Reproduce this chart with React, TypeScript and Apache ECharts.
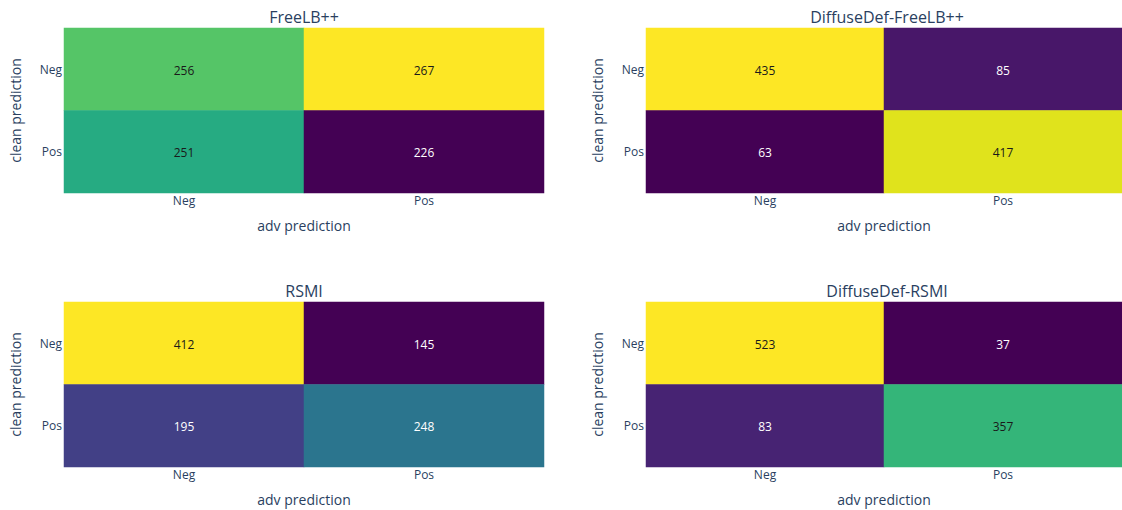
import React, { useEffect, useRef } from "react";
import * as echarts from "echarts";

const titles = ["FreeLB++", "DiffuseDef-FreeLB++", "RSMI", "DiffuseDef-RSMI"];
const xCategories = ["Neg", "Pos"];
const yCategories = ["Neg", "Pos"];
// rows: clean prediction (Neg, Pos); columns: adv prediction (Neg, Pos)
const freelb = [[256, 267], [251, 226]];
const diffuseFreelb = [[435, 85], [63, 417]];
const rsmi = [[412, 145], [195, 248]];
const diffuseRsmi = [[523, 37], [83, 357]];
const matrices = [freelb, diffuseFreelb, rsmi, diffuseRsmi];

const viridis = [
  "#440154", "#48186a", "#472d7b", "#424086", "#3b528b", "#33638d",
  "#2c728e", "#26828e", "#21918c", "#1fa088", "#28ae80", "#3fbc73",
  "#5ec962", "#84d44b", "#addc30", "#d8e219", "#fde725",
];

const FONT = "Open Sans";
const INK = "#2a3f5f";

const grids = [
  { left: 64, top: 28, width: 480, height: 165 },
  { left: 646, top: 28, width: 482, height: 165 },
  { left: 64, top: 302, width: 480, height: 165 },
  { left: 646, top: 302, width: 482, height: 165 },
];

export default function App() {
  const ref = useRef<HTMLDivElement>(null);
  useEffect(() => {
    if (!ref.current) return;
    const chart = echarts.init(ref.current, null, { renderer: "svg" });
    const option: any = {
      animation: false,
      backgroundColor: "#fff",
      textStyle: { fontFamily: FONT },
      title: titles.map((t, i) => ({
        text: t,
        left: grids[i].left + grids[i].width / 2,
        top: grids[i].top - 19,
        padding: 0,
        textAlign: "center",
        textStyle: { fontFamily: FONT, fontSize: 16, fontWeight: "normal", color: INK },
      })),
      grid: grids.map((g) => ({ ...g, containLabel: false })),
      xAxis: grids.map((_, i) => ({
        type: "category",
        gridIndex: i,
        data: xCategories,
        name: "adv prediction",
        nameLocation: "middle",
        nameGap: 25,
        nameTextStyle: { fontFamily: FONT, fontSize: 14, color: INK },
        axisLine: { show: false },
        axisTick: { show: false },
        splitLine: { show: false },
        axisLabel: { fontFamily: FONT, fontSize: 12, color: INK, margin: 1 },
      })),
      yAxis: grids.map((_, i) => ({
        type: "category",
        gridIndex: i,
        data: yCategories,
        inverse: true,
        name: "clean prediction",
        nameLocation: "middle",
        nameGap: 42,
        nameTextStyle: { fontFamily: FONT, fontSize: 14, color: INK },
        axisLine: { show: false },
        axisTick: { show: false },
        splitLine: { show: false },
        axisLabel: { fontFamily: FONT, fontSize: 12, color: INK, margin: 2 },
      })),
      visualMap: matrices.map((m, i) => {
        const flat = m.flat();
        return {
          type: "continuous",
          show: false,
          seriesIndex: i,
          min: Math.min(...flat),
          max: Math.max(...flat),
          inRange: { color: viridis },
        };
      }),
      series: matrices.map((m, i) => {
        const flat = m.flat();
        const mn = Math.min(...flat);
        const mx = Math.max(...flat);
        const data: any[] = [];
        m.forEach((row, r) =>
          row.forEach((v, c) => {
            const t = (v - mn) / (mx - mn);
            data.push({
              value: [c, r, v],
              label: { color: t > 0.6 ? "#1a1a1a" : "#fff" },
            });
          })
        );
        return {
          type: "heatmap",
          xAxisIndex: i,
          yAxisIndex: i,
          data,
          label: { show: true, fontFamily: FONT, fontSize: 12, offset: [0, 1], formatter: (p: any) => String(p.value[2]) },
          itemStyle: { borderWidth: 0 },
          emphasis: { disabled: true },
        };
      }),
    };
    chart.setOption(option);
    return () => chart.dispose();
  }, []);
  return (
    <div
      ref={ref}
      style={{ position: "fixed", left: 0, top: 0, width: 1122, height: 510 }}
    />
  );
}
